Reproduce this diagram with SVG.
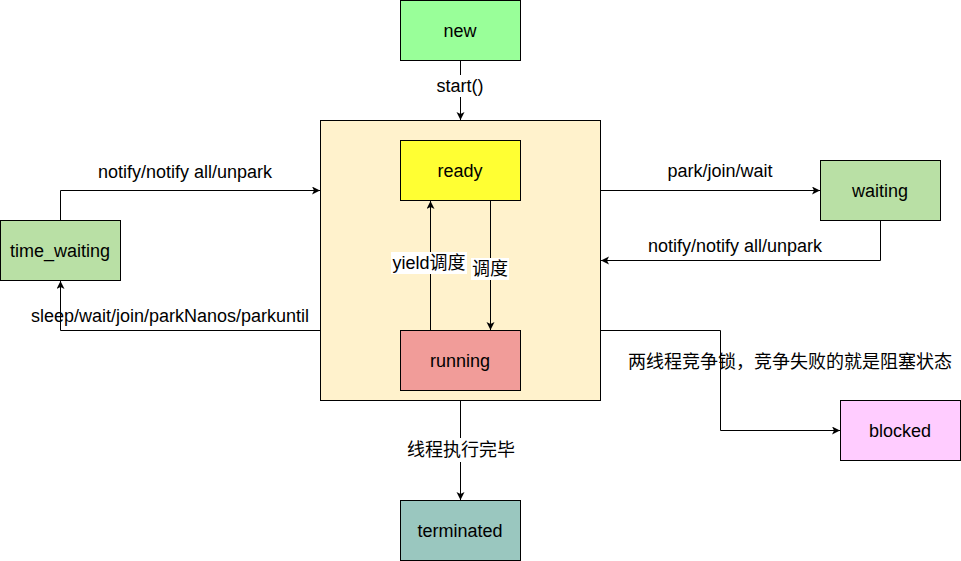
<svg xmlns="http://www.w3.org/2000/svg" width="961" height="561" viewBox="0 0 961 561">
<defs>
<marker id="arr" markerUnits="userSpaceOnUse" markerWidth="10" markerHeight="10" refX="8" refY="4" orient="auto">
<path d="M0,0 L8,4 L0,8 L2,4 z" fill="#000"/>
</marker>
<style>
text{font-family:"Liberation Sans","Noto Sans CJK SC",Arial,sans-serif;font-size:18px;fill:#000;text-anchor:middle}
.box{stroke:#000;stroke-width:1}
.edge{fill:none;stroke:#000;stroke-width:1;marker-end:url(#arr)}
.lbg{fill:#fff}
</style>
</defs>
<rect width="961" height="561" fill="#fff"/>
<g id="container"><rect class="box" x="320.5" y="120.5" width="280" height="280" fill="#FFF2CC"/></g>
<g id="new"><rect class="box" x="400.5" y="0.5" width="120" height="60" fill="#99FF99"/><text x="460" y="37">new</text></g>
<g id="ready"><rect class="box" x="400.5" y="140.5" width="120" height="60" fill="#FFFF33"/><text x="460" y="177">ready</text></g>
<g id="running"><rect class="box" x="400.5" y="330.5" width="120" height="60" fill="#F19C99"/><text x="460" y="367">running</text></g>
<g id="time_waiting"><rect class="box" x="0.5" y="220.5" width="120" height="60" fill="#B9E0A5"/><text x="60" y="257">time_waiting</text></g>
<g id="waiting"><rect class="box" x="820.5" y="160.5" width="120" height="60" fill="#B9E0A5"/><text x="880" y="197">waiting</text></g>
<g id="blocked"><rect class="box" x="840.5" y="400.5" width="120" height="60" fill="#FFCCFF"/><text x="900" y="437">blocked</text></g>
<g id="terminated"><rect class="box" x="400.5" y="500.5" width="120" height="60" fill="#9AC7BF"/><text x="460" y="537">terminated</text></g>
<g id="connectors">
<path class="edge" d="M460.5,60.5 V120"/>
<path class="edge" d="M430.5,330.5 V201"/>
<path class="edge" d="M490.5,200.5 V330"/>
<path class="edge" d="M60.5,220.5 V190.5 H320"/>
<path class="edge" d="M320.5,330.5 H60.5 V281"/>
<path class="edge" d="M600.5,190.5 H820"/>
<path class="edge" d="M880.5,220.5 V260.5 H601"/>
<path class="edge" d="M600.5,330.5 H720.5 V430.5 H840"/>
<path class="edge" d="M460.5,400.5 V500"/>
</g>
<g id="labels">
<rect class="lbg" x="434" y="75" width="52" height="22"/>
<text x="460" y="92">start()</text>
<rect class="lbg" x="391" y="252" width="76" height="22"/>
<text x="429" y="269">yield调度</text>
<rect class="lbg" x="471" y="258" width="38" height="22"/>
<text x="490" y="275">调度</text>
<text x="185" y="178">notify/notify all/unpark</text>
<text x="170" y="322">sleep/wait/join/parkNanos/parkuntil</text>
<text x="720" y="177">park/join/wait</text>
<text x="735" y="252">notify/notify all/unpark</text>
<text x="790" y="368">两线程竞争锁，竞争失败的就是阻塞状态</text>
<rect class="lbg" x="406" y="438" width="110" height="24"/>
<text x="461" y="456">线程执行完毕</text>
</g>
</svg>
